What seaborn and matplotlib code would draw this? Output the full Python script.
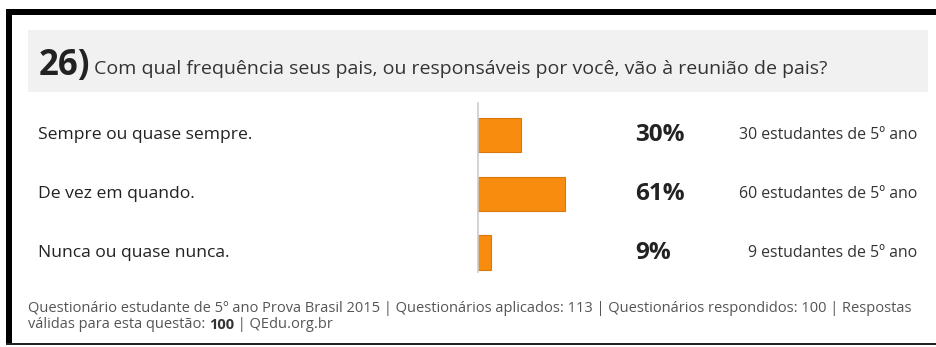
import matplotlib
matplotlib.use("Agg")
import matplotlib.pyplot as plt
import matplotlib.transforms as mtransforms
from matplotlib.patches import Rectangle
import seaborn as sns
import pandas as pd

# ---- data ----
question_number = "26)"
question_text = "Com qual frequência seus pais, ou responsáveis por você, vão à reunião de pais?"
categories = ["Sempre ou quase sempre.", "De vez em quando.", "Nunca ou quase nunca."]
percent = [30, 61, 9]
students = [30, 60, 9]
student_suffix = "estudantes de 5º ano"
footer_line1 = ("Questionário estudante de 5º ano Prova Brasil 2015 | Questionários aplicados: 113 | "
                "Questionários respondidos: 100 | Respostas")
footer_line2_a = "válidas para esta questão: "
footer_line2_b = "100"
footer_line2_c = " | QEdu.org.br"

sns.set_style("white")
plt.rcParams["font.family"] = ["Open Sans", "DejaVu Sans"]

W, H = 937, 347
fig = plt.figure(figsize=(W / 100, H / 100), dpi=100)
fig.patch.set_facecolor("white")


def px(x0, y0, x1, y1):
    """pixel box (top-left origin) -> figure fraction [l, b, w, h]"""
    return [x0 / W, 1 - y1 / H, (x1 - x0) / W, (y1 - y0) / H]


def rect(x0, y0, x1, y1, color, z=0):
    l, b, w, h = px(x0, y0, x1, y1)
    fig.patches.append(Rectangle((l, b), w, h, transform=fig.transFigure,
                                 facecolor=color, edgecolor="none", zorder=z))


# frame
rect(6, 9, W, 15, "#000000")
rect(6, 9, 12, 345, "#000000")
rect(6, 343, W, 345, "#222222")
# header box
rect(28, 30, 928, 92, "#f1f1f1")

# header text
renderer = fig.canvas.get_renderer()
tn = fig.text(39 / W, 1 - 66 / H, question_number, fontsize=25, fontweight="bold",
              color="#222222", va="center", ha="left")
xq = 39 + tn.get_window_extent(renderer).width + 4
fig.text(xq / W, 1 - 69 / H, question_text, fontsize=14, color="#333333",
         va="center", ha="left")

# bar axes
ax = fig.add_axes(px(478, 103, 621, 272))
df = pd.DataFrame({"cat": categories, "pct": percent})
sns.barplot(data=df, x="pct", y="cat", orient="h", color="#f78c0e",
            edgecolor="#d9790b", linewidth=0.8, width=0.58, saturation=1, ax=ax)
ax.set_xlim(0, 100)
ax.set_ylim(2.33, -0.54)
for s in ["top", "right", "bottom"]:
    ax.spines[s].set_visible(False)
ax.spines["left"].set_color("#cccccc")
ax.spines["left"].set_linewidth(1.2)
ax.set_xticks([])
ax.set_yticks([])
ax.set_xlabel("")
ax.set_ylabel("")
ax.patch.set_alpha(0)

trans = mtransforms.blended_transform_factory(fig.transFigure, ax.transData)
for i, (cat, p, n) in enumerate(zip(categories, percent, students)):
    ax.text(38 / W, i, cat, transform=trans, fontsize=12.6, color="#222222",
            va="center", ha="left", clip_on=False)
    ax.text(635 / W, i, f"{p}%", transform=trans, fontsize=17.5, fontweight="bold",
            color="#222222", va="center", ha="left", clip_on=False)
    ax.text(917 / W, i, f"{n} {student_suffix}", transform=trans, fontsize=11.4,
            color="#333333", va="center", ha="right", clip_on=False)

# footer
fs = 10.5
fcol = "#555555"
fig.text(28 / W, 1 - 308 / H, footer_line1, fontsize=fs, color=fcol, va="center", ha="left")
t1 = fig.text(28 / W, 1 - 325 / H, footer_line2_a, fontsize=fs, color=fcol, va="center", ha="left")
x = 28 + t1.get_window_extent(renderer).width
t2 = fig.text(x / W, 1 - 325 / H, footer_line2_b, fontsize=fs, color="#333333",
              fontweight="bold", va="center", ha="left")
x += t2.get_window_extent(renderer).width
fig.text(x / W, 1 - 325 / H, footer_line2_c, fontsize=fs, color=fcol, va="center", ha="left")

fig.savefig("out.png", dpi=100, facecolor="white")
